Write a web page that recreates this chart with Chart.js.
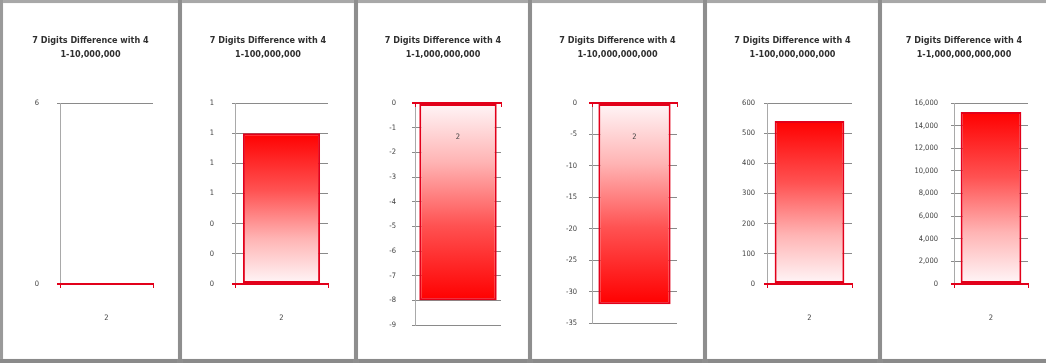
<!DOCTYPE html>
<html>
<head>
<meta charset="utf-8">
<title>7 Digits Difference with 4</title>
<script src="https://cdn.jsdelivr.net/npm/chart.js@4.4.0/dist/chart.umd.min.js"></script>
<style>
  html, body { margin: 0; padding: 0; background: #fff; }
  #frame { position: relative; width: 1046px; height: 363px; overflow: hidden; background: #fff; }
  #frame canvas { position: absolute; top: 0; }
  .rule { position: absolute; background: #8e8e8e; box-shadow: 0 0 1px #c4c4c4; z-index: 2; }
</style>
</head>
<body>
<div id="frame"></div>
<script>
// ---- data ----
const categories = ['2'];
const titleLine = '7 Digits Difference with 4';
const ranges = ['1-10,000,000', '1-100,000,000', '1-1,000,000,000',
                '1-10,000,000,000', '1-100,000,000,000', '1-1,000,000,000,000'];
const diffValues = [0, 1, -8, -32, 540, 15200];
const axisMin  = [0, 0, -9, -35, 0, 0];
const axisMax  = [6, 1.2, 0, 0, 600, 16000];
const axisStep = [6, 0.2, 1, 5, 100, 2000];
const tickFormat = [
  v => String(Math.round(v)),
  v => String(Math.round(v)),
  v => String(Math.round(v)),
  v => String(Math.round(v)),
  v => String(Math.round(v)),
  v => Math.round(v).toLocaleString('en-US')
];

// ---- panel geometry (page pixels) ----
const panelLeft  = [3, 182, 358, 532, 707, 882];
const panelRight = [178, 354, 528, 703, 878, 1046];
const plotLeft   = [60, 235, 415, 592, 767, 954];
const plotRight  = [153, 328, 501, 677, 852, 1028];
const plotTop    = 103;
const plotBottom = [284, 284, 325, 323, 284, 284];
const labelGap   = [18, 18, 16, 12, 9, 13];
const barPct     = [0.83, 0.83, 0.9, 0.85, 0.82, 0.82];

const FONT = "'Liberation Sans Narrow', 'DejaVu Sans Condensed', 'Liberation Sans', sans-serif";
const RED = '#e2001a';
const GRID = '#8a8a8a';

const frame = document.getElementById('frame');

// frame rules: outer edges and the separators between panels
function rule(x, y, w, h, color) {
  const d = document.createElement('div');
  d.className = 'rule';
  d.style.left = x + 'px'; d.style.top = y + 'px';
  d.style.width = w + 'px'; d.style.height = h + 'px';
  if (color) d.style.background = color;
  frame.appendChild(d);
}
rule(0, 0, 1046, 3, '#a8a8a8');
rule(0, 0, 3, 363, '#9a9a9a');
rule(0, 359, 1046, 4, '#8a8a8a');
[178, 354, 528, 703, 878].forEach(x => rule(x, 0, 4, 363));

// bar fill: pale at the zero line, full red at the bar's end
function barFill(ctx) {
  const chart = ctx.chart;
  if (!chart.chartArea) return '#ff0000';
  const y = chart.scales.y;
  const v = ctx.parsed ? ctx.parsed.y : 0;
  const base = y.getPixelForValue(0);
  const tip = y.getPixelForValue(v);
  if (Math.abs(base - tip) < 1) return '#ff0000';
  const g = chart.ctx.createLinearGradient(0, base, 0, tip);
  g.addColorStop(0, '#fff6f8');
  g.addColorStop(0.3, '#ffb4b4');
  g.addColorStop(0.62, '#ff5252');
  g.addColorStop(1, '#ff0000');
  return g;
}

panelLeft.forEach((left, i) => {
  const width = panelRight[i] - left;
  const canvas = document.createElement('canvas');
  canvas.width = width;
  canvas.height = 363;
  canvas.style.left = left + 'px';
  canvas.style.width = width + 'px';
  canvas.style.height = '363px';
  frame.appendChild(canvas);

  new Chart(canvas, {
    type: 'bar',
    data: {
      labels: categories,
      datasets: [{
        data: [diffValues[i]],
        yAxisID: 'y',
        backgroundColor: barFill,
        borderColor: RED,
        borderWidth: 2,
        borderSkipped: false,
        barPercentage: barPct[i],
        categoryPercentage: 1
      }]
    },
    options: {
      responsive: false,
      animation: false,
      devicePixelRatio: 1,
      layout: { padding: { top: 0, left: 0, right: 0, bottom: 363 - plotBottom[i] } },
      plugins: {
        legend: { display: false },
        tooltip: { enabled: false },
        title: {
          display: true,
          text: [titleLine, ranges[i]],
          color: '#2f2f2f',
          font: { family: FONT, size: 9, weight: 'bold', lineHeight: '14px' },
          padding: { top: 34, bottom: plotTop - 34 - 28 }
        }
      },
      scales: {
        // category axis crosses the value axis at zero; its label sits over the bar
        x: {
          type: 'category',
          position: { y: 0 },
          grid: {
            display: true,
            offset: true,
            drawOnChartArea: false,
            drawTicks: true,
            tickLength: 3,
            color: RED,
            lineWidth: 1,
            z: 1
          },
          border: { display: true, color: RED, width: 2, z: 1 },
          ticks: {
            z: 1,
            color: '#404040',
            padding: 27,
            font: { family: FONT, size: 7.5 }
          }
        },
        y: {
          position: 'left',
          min: axisMin[i],
          max: axisMax[i],
          afterFit: s => { s.width = plotLeft[i] - left; },
          grid: {
            drawTicks: true,
            tickLength: 3,
            color: c => (c.tick && c.tick.value === 0) ? RED : GRID,
            lineWidth: c => (c.tick && c.tick.value === 0) ? 2 : 1
          },
          border: { display: true, color: '#a9a9a9', width: 1 },
          ticks: {
            stepSize: axisStep[i],
            color: '#404040',
            padding: labelGap[i],
            font: { family: FONT, size: 7.5 },
            callback: v => tickFormat[i](v)
          }
        },
        yR: {
          position: 'right',
          display: true,
          afterFit: s => { s.width = panelRight[i] - plotRight[i]; },
          grid: { display: false, drawTicks: false },
          border: { display: false },
          ticks: { display: false }
        }
      }
    }
  });
});
</script>
</body>
</html>
